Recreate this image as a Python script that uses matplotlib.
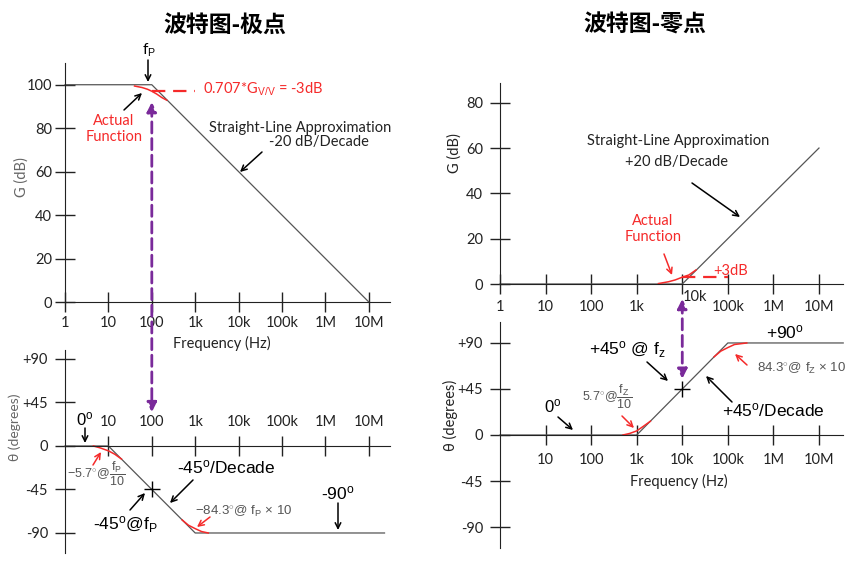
import matplotlib
matplotlib.use('Agg')
import matplotlib.pyplot as plt
from matplotlib.ticker import NullLocator
from matplotlib.transforms import Affine2D

plt.rcParams['font.family'] = ['Lato', 'DejaVu Sans']
plt.rcParams['mathtext.fontset'] = 'custom'
plt.rcParams['mathtext.rm'] = 'Liberation Sans'
plt.rcParams['mathtext.it'] = 'Liberation Sans:italic'
plt.rcParams['mathtext.bf'] = 'Liberation Sans:bold'

# ---- data ----
decades = [1, 10, 100, 1e3, 1e4, 1e5, 1e6, 1e7]
decade_labels = ['1', '10', '100', '1k', '10k', '100k', '1M', '10M']
phase_ticks = [90, 45, 0, -45, -90]
phase_labels = ['+90', '+45', '0', '-45', '-90']
gain_ticks_pole = [0, 20, 40, 60, 80, 100]
gain_ticks_zero = [0, 20, 40, 60, 80]

# pole (fp = 100 Hz)
pole_f = [1, 100, 1e7]
pole_gain = [100, 100, 0]
pole_actual_f = [40, 60, 80, 100, 130, 170, 220]
pole_actual_gain = [99.4, 98.7, 97.9, 97.0, 95.7, 94.1, 92.9]
minus3db_f = [100, 1000]
minus3db_level = [97, 97]
pole_phase_f = [1, 10, 1000, 2.3e7]
pole_phase = [0, 0, -90, -90]
pole_low_f = [4.5, 6.5, 10, 14, 20]
pole_low_phase = [0, -2, -5, -8.5, -13.5]
pole_high_f = [500, 700, 1000, 1400, 2000]
pole_high_phase = [-76.5, -82.0, -85.5, -88.5, -90]

# zero (fz = 10 kHz)
zero_f = [1, 1e4, 1e7]
zero_gain = [0, 0, 60]
zero_actual_f = [3000, 5000, 7000, 10000, 14000, 20000]
zero_actual_gain = [0.2, 1.0, 1.8, 3.0, 4.0, 6.2]
plus3db_f = [1e4, 1e5]
plus3db_level = [3, 3]
zero_phase_f = [1, 1000, 1e5, 3.4e7]
zero_phase = [0, 0, 90, 90]
zero_low_f = [500, 700, 1000, 1400, 2000]
zero_low_phase = [0, 1.5, 4, 8.5, 13.5]
zero_high_f = [50000, 70000, 1e5, 1.4e5, 2.6e5]
zero_high_phase = [76.5, 82.0, 85.5, 88.5, 90]

W, H = 862, 563
RED = '#f52a2a'
PURPLE = '#7a2a9a'
LINE = '#555555'
AX = '#222222'
GRAY = '#555555'
ARIAL = 'Liberation Sans'

fig = plt.figure(figsize=(W / 100, H / 100), dpi=100)
# pixel coordinates, origin top-left
T = Affine2D().scale(1 / W, -1 / H).translate(0, 1) + fig.transFigure


def make_axes(x0, y0, x1, y1, xmax, ylim):
    ax = fig.add_axes([x0 / W, (H - y1) / H, (x1 - x0) / W, (y1 - y0) / H])
    ax.set_xscale('log')
    ax.set_xlim(1, xmax)
    ax.set_ylim(*ylim)
    ax.patch.set_visible(False)
    for s in ['right', 'top', 'bottom']:
        ax.spines[s].set_visible(False)
    ax.spines['left'].set_color(AX)
    ax.xaxis.set_minor_locator(NullLocator())
    return ax


def x_axis(ax, ticks, labels, top=False, pad=3):
    side = 'top' if top else 'bottom'
    ax.spines[side].set_visible(True)
    ax.spines[side].set_position(('data', 0))
    ax.spines[side].set_color(AX)
    ax.xaxis.set_ticks_position(side)
    ax.set_xticks(ticks, labels)
    ax.tick_params(axis='x', direction='inout', length=14.4, width=1,
                   colors=AX, labelsize=10.5, pad=pad)


def y_axis(ax, ticks, labels, pad=2):
    ax.set_yticks(ticks, labels)
    ax.tick_params(axis='y', direction='inout', length=14.4, width=1,
                   colors=AX, labelsize=10.5, pad=pad)


def arrow(x0, y0, x1, y1, color='black', lw=1.1):
    fig.add_artist(plt.matplotlib.patches.FancyArrowPatch(
        (x0, y0), (x1, y1), transform=T, arrowstyle='->', color=color,
        lw=lw, mutation_scale=10, shrinkA=0, shrinkB=0))


def txt(x, y, s, **kw):
    kw.setdefault('ha', 'center')
    kw.setdefault('va', 'center')
    fig.text(x, y, s, transform=T, **kw)


# ---- left: pole ----
ax_lt = make_axes(65, 63, 390, 302, 10 ** 7.488, (0, 110))
x_axis(ax_lt, decades, decade_labels, pad=3)
y_axis(ax_lt, gain_ticks_pole, [str(v) for v in gain_ticks_pole], pad=2)
ax_lt.plot(pole_f, pole_gain, color=LINE, lw=0.9, clip_on=False)
ax_lt.plot(pole_actual_f, pole_actual_gain, color=RED, lw=1.1)
ax_lt.plot(minus3db_f, minus3db_level, color=RED, lw=1.6, dashes=(6, 3.5))

ax_lb = make_axes(65, 350, 390, 553, 10 ** 7.488, (-110.7, 99.3))
x_axis(ax_lb, decades[1:], decade_labels[1:], top=True, pad=5)
y_axis(ax_lb, phase_ticks, phase_labels, pad=5)
ax_lb.plot(pole_phase_f, pole_phase, color=LINE, lw=0.9, clip_on=False)
ax_lb.plot(pole_low_f, pole_low_phase, color=RED, lw=1.1)
ax_lb.plot(pole_high_f, pole_high_phase, color=RED, lw=1.1)
ax_lb.plot([100], [-45], marker='+', ms=11, mew=1, color='black')

ax_lb.annotate('', xy=(100, 35), xycoords=ax_lb.transData,
               xytext=(100, 92), textcoords=ax_lt.transData,
               arrowprops=dict(arrowstyle='<|-|>', color=PURPLE, lw=2,
                               linestyle=(0, (4, 2)), mutation_scale=14,
                               shrinkA=0, shrinkB=0))

# ---- right: zero ----
ax_rt = make_axes(500, 83, 843, 284, 10 ** 7.527, (0, 88.7))
x_axis(ax_rt, decades, decade_labels[:4] + [''] + decade_labels[5:], pad=4)
y_axis(ax_rt, gain_ticks_zero, [str(v) for v in gain_ticks_zero], pad=5)
ax_rt.plot(zero_f, zero_gain, color=LINE, lw=0.9, clip_on=False)
ax_rt.plot(zero_actual_f, zero_actual_gain, color=RED, lw=1.1)
ax_rt.plot(plus3db_f, plus3db_level, color=RED, lw=1.6, dashes=(6, 3.5))

ax_rb = make_axes(500, 322, 843, 548, 10 ** 7.527, (-110.5, 110.5))
x_axis(ax_rb, decades[1:], decade_labels[1:], pad=6)
y_axis(ax_rb, phase_ticks, phase_labels, pad=5)
ax_rb.plot(zero_phase_f, zero_phase, color=LINE, lw=0.9, clip_on=False)
ax_rb.plot(zero_low_f, zero_low_phase, color=RED, lw=1.1)
ax_rb.plot(zero_high_f, zero_high_phase, color=RED, lw=1.1)
ax_rb.plot([1e4], [45], marker='+', ms=11, mew=1, color='black')

ax_rb.annotate('', xy=(1e4, 55), xycoords=ax_rb.transData,
               xytext=(1e4, -6.6), textcoords=ax_rt.transData,
               arrowprops=dict(arrowstyle='<|-|>', color=PURPLE, lw=2,
                               linestyle=(0, (4, 2)), mutation_scale=14,
                               shrinkA=0, shrinkB=0))

# ---- titles and axis labels ----
for x, s in [(225, '波特图-极点'), (645, '波特图-零点')]:
    txt(x, 25, s, fontsize=16.5, fontweight='bold',
        family=['Noto Sans CJK SC', 'DejaVu Sans'])

txt(22, 177, 'G (dB)', rotation=90, color='#666666', fontsize=10.5)
txt(15, 427, 'θ (degrees)', rotation=90, color='#666666', fontsize=10)
txt(455, 153, 'G (dB)', rotation=90, color=AX, fontsize=10.5)
txt(450, 415, 'θ (degrees)', rotation=90, color=AX, fontsize=10.5)
txt(222, 343, 'Frequency (Hz)', color=AX, fontsize=10.5)
txt(679, 481, 'Frequency (Hz)', color=AX, fontsize=10.5)
txt(695, 297, '10k', color=AX, fontsize=10.5)

# ---- left annotations ----
txt(149, 50, r'f$_{\mathrm{P}}$', fontsize=11)
arrow(148, 60, 148, 82)
txt(203, 89, r'0.707*G$_{\mathrm{V/V}}$ = -3dB', ha='left', color=RED, fontsize=10.5)
txt(114, 129, 'Actual\nFunction', color=RED, fontsize=10.5, linespacing=1.25)
arrow(124, 110, 142, 93)
txt(300, 128, 'Straight-Line Approximation', color=AX, fontsize=10.5)
txt(319, 142, '-20 dB/Decade', color=AX, fontsize=10.5)
arrow(262, 152, 240, 172)

txt(85, 419, r'0$^{\mathrm{o}}$', family=ARIAL, fontsize=12)
arrow(85, 428, 85, 443)
txt(96, 474, r'$-$5.7$^{\circ}$@$\dfrac{\mathrm{f_P}}{\mathrm{10}}$', family=ARIAL,
    fontsize=9, color=GRAY)
arrow(93, 465, 101, 452, color=RED)
txt(226, 467, r'-45$^{\mathrm{o}}$/Decade', family=ARIAL, fontsize=12.5)
arrow(193, 480, 170, 503)
txt(125, 525, r'-45$^{\mathrm{o}}$@f$_{\mathrm{P}}$', family=ARIAL, fontsize=12.5)
arrow(130, 510, 145, 493)
txt(244, 511, r'$-$84.3$^{\circ}$@ f$_{\mathrm{P}}$ $\times$ 10', family=ARIAL,
    fontsize=9.5, color=GRAY)
arrow(210, 517, 197, 527, color=RED)
txt(338, 493, r'-90$^{\mathrm{o}}$', family=ARIAL, fontsize=12.5)
arrow(338, 503, 338, 530)

# ---- right annotations ----
txt(678, 141, 'Straight-Line Approximation', color=AX, fontsize=10.5)
txt(677, 162, '+20 dB/Decade', color=AX, fontsize=10.5)
arrow(692, 183, 740, 217)
txt(653, 229, 'Actual\nFunction', color=RED, fontsize=10.5, linespacing=1.25)
arrow(664, 254, 672, 275, color=RED)
txt(713, 271, '+3dB', ha='left', color=RED, fontsize=10.5)

txt(785, 332, r'+90$^{\mathrm{o}}$', family=ARIAL, fontsize=12.5)
txt(627, 350, r'+45$^{\mathrm{o}}$ @ f$_{\mathrm{z}}$', family=ARIAL, fontsize=12.5)
arrow(647, 362, 668, 381)
txt(773, 410, r'+45$^{\mathrm{o}}$/Decade', family=ARIAL, fontsize=12.5)
arrow(732, 402, 706, 376)
txt(802, 368, r'84.3$^{\circ}$@ f$_{\mathrm{Z}}$ $\times$ 10', family=ARIAL,
    fontsize=9.5, color=GRAY)
arrow(747, 365, 735, 354, color=RED)
txt(607, 397, r'5.7$^{\circ}$@$\dfrac{\mathrm{f_Z}}{\mathrm{10}}$', family=ARIAL,
    fontsize=9, color=GRAY)
arrow(622, 416, 634, 428, color=RED)
txt(553, 406, r'0$^{\mathrm{o}}$', family=ARIAL, fontsize=12)
arrow(558, 417, 573, 430)

fig.savefig('out.png', dpi=100)
